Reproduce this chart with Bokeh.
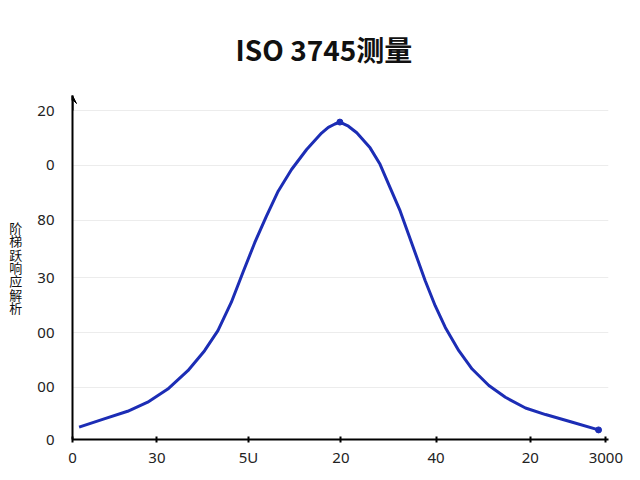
from bokeh.plotting import figure
from bokeh.models import ColumnDataSource, FixedTicker, Arrow, VeeHead, Range1d
from bokeh.embed import file_html
from bokeh.resources import INLINE

# values
x_vals = [37, 178, 310, 423, 536, 649, 743, 818, 893, 959, 1025, 1091, 1157, 1232, 1317, 1401, 1439,
          1476, 1504, 1552, 1599, 1674, 1730, 1787, 1843, 1890, 1937, 1984, 2040, 2097, 2173, 2248,
          2342, 2435, 2548, 2661, 2812, 2959]
y_vals = [4.5, 7.5, 10.3, 13.6, 18.4, 25.1, 32.4, 39.7, 50.0, 61.0, 71.8, 81.5, 90.6, 98.5, 105.8, 111.8, 113.9,
          115.1, 115.8, 114.3, 111.9, 106.4, 100.4, 91.8, 83.4, 74.9, 66.4, 57.9, 48.8, 40.9, 32.4, 25.7,
          19.7, 15.4, 11.5, 9.1, 6.3, 3.5]

x_ticks = [0, 475, 990, 1510, 2045, 2575, 3000]
x_tick_labels = ["0", "30", "5U", "20", "40", "20", "3000"]
y_ticks = [0, 19, 39, 59, 80, 100, 120]
y_tick_labels = ["0", "00", "00", "30", "80", "0", "20"]

title_text = "ISO 3745测量"
y_label_text = "阶梯跃响应解析"

source = ColumnDataSource(data=dict(x=x_vals, y=y_vals))

p = figure(width=630, height=470, output_backend="svg", toolbar_location=None,
           x_range=Range1d(0, 3015), y_range=Range1d(0, 125.5),
           min_border_left=72, min_border_right=22, min_border_top=95, min_border_bottom=31)
p.outline_line_color = None

p.title.text = title_text
p.title.text_font = "Noto Sans CJK SC"
p.title.text_font_size = "28px"
p.title.text_font_style = "bold"
p.title.text_color = "#111111"
p.title.align = "left"
p.title.offset = 163
p.title.standoff = 53

p.line("x", "y", source=source, line_color="#1c2db5", line_width=3, line_join="round")

# peak and end markers
peak_i = y_vals.index(max(y_vals))
p.scatter([x_vals[peak_i], x_vals[-1]], [y_vals[peak_i], y_vals[-1]], size=6, color="#1c2db5")

p.xgrid.grid_line_color = None
p.ygrid.grid_line_color = "#ececec"
p.ygrid.grid_line_width = 1

p.xaxis.ticker = FixedTicker(ticks=x_ticks)
p.xaxis.major_label_overrides = dict(zip(x_ticks, x_tick_labels))
p.yaxis.ticker = FixedTicker(ticks=y_ticks)
p.yaxis.major_label_overrides = dict(zip(y_ticks, y_tick_labels))

for ax in (p.xaxis, p.yaxis):
    ax.axis_line_color = "black"
    ax.axis_line_width = 2
    ax.minor_tick_line_color = None
    ax.major_label_text_font = "Noto Sans"
    ax.major_label_text_font_size = "15px"
    ax.major_label_text_color = "#222222"

p.xaxis.major_tick_in = 3
p.xaxis.major_tick_out = 3
p.xaxis.major_tick_line_color = "black"
p.xaxis.major_tick_line_width = 2
p.xaxis.major_label_standoff = 4
p.yaxis.major_tick_line_color = None
p.yaxis.major_label_standoff = 12

p.yaxis.axis_label = "\n".join(y_label_text)
p.yaxis.axis_label_orientation = "horizontal"
p.yaxis.axis_label_text_font = "Noto Sans CJK SC"
p.yaxis.axis_label_text_font_size = "13px"
p.yaxis.axis_label_text_font_style = "normal"
p.yaxis.axis_label_text_color = "#111111"
p.yaxis.axis_label_text_line_height = 0.7
p.yaxis.axis_label_standoff = 12

# arrow head on top of y axis
p.add_layout(Arrow(end=VeeHead(size=8, fill_color="black", line_color="black"),
                   x_start=0, y_start=120, x_end=0, y_end=125.5,
                   line_color="black", line_width=2))

open("out.html", "w").write(file_html(p, INLINE))
